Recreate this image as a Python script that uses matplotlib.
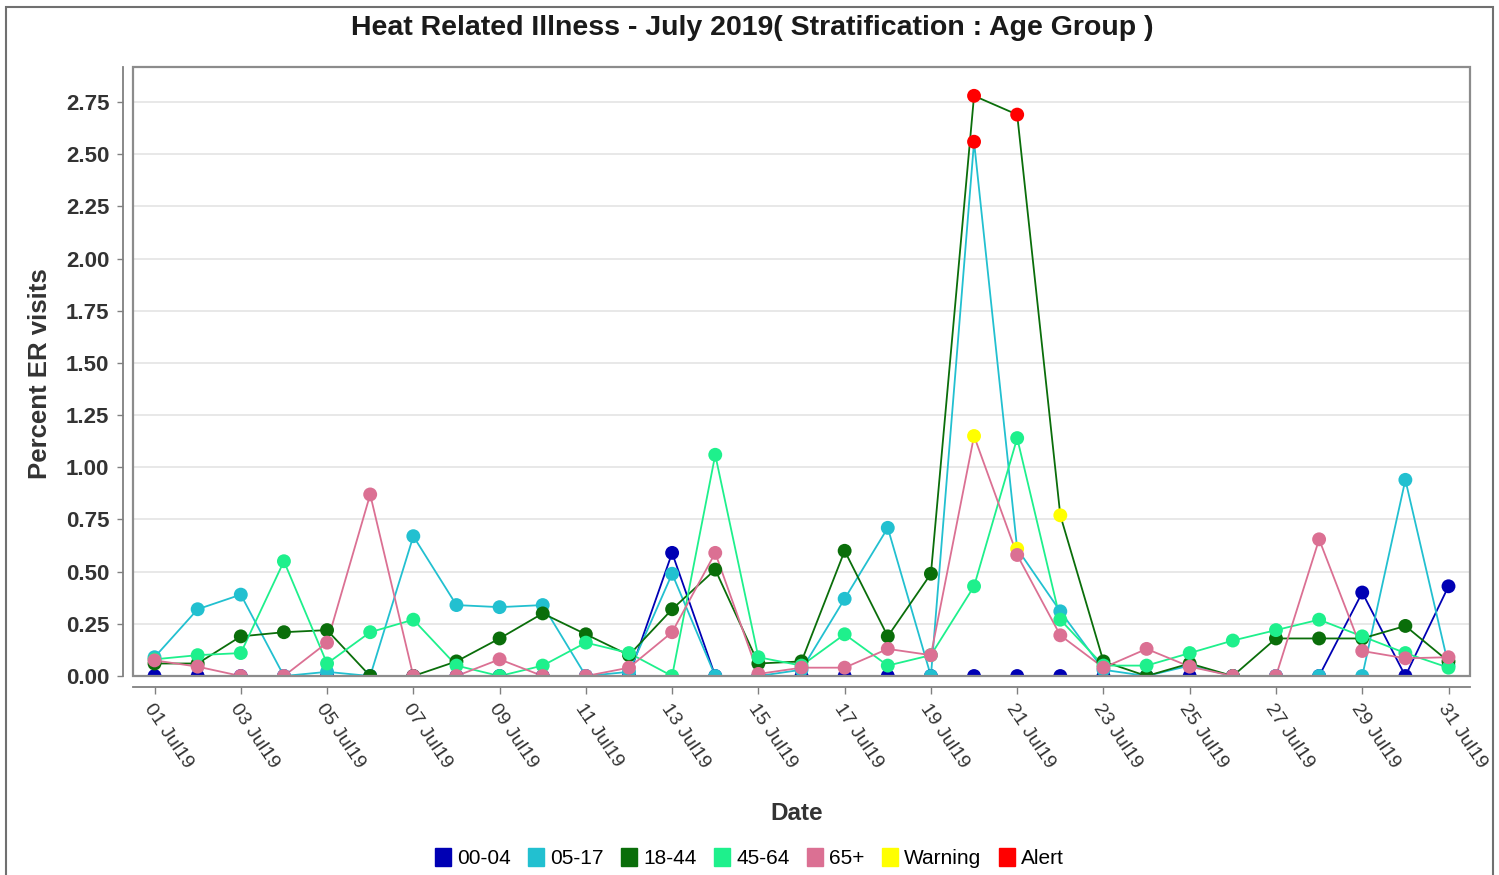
import matplotlib
matplotlib.use("Agg")
import matplotlib.pyplot as plt
from matplotlib.patches import Patch, Rectangle

plt.rcParams['font.family'] = ['Liberation Sans', 'DejaVu Sans']

days = list(range(1, 32))
tick_days = [1, 3, 5, 7, 9, 11, 13, 15, 17, 19, 21, 23, 25, 27, 29, 31]
tick_labels = ["%02d Jul19" % d for d in tick_days]
y_ticks = [0, 0.25, 0.5, 0.75, 1.0, 1.25, 1.5, 1.75, 2.0, 2.25, 2.5, 2.75]

age_00_04 = [0, 0, 0, 0, 0, 0, 0, 0, 0, 0, 0, 0, 0.59, 0, 0, 0,
             0, 0, 0, 0, 0, 0, 0, 0, 0, 0, 0, 0, 0.40, 0, 0.43]
age_05_17 = [0.09, 0.32, 0.39, 0.00, 0.02, 0.00, 0.67, 0.34, 0.33, 0.34, 0.00,
             0.02, 0.49, 0.00, 0.00, 0.03, 0.37, 0.71, 0.00, 2.56, 0.61, 0.31,
             0.03, 0.00, 0.05, 0.00, 0.00, 0.00, 0.00, 0.94, 0.05]
age_18_44 = [0.06, 0.06, 0.19, 0.21, 0.22, 0.00, 0.00, 0.07, 0.18, 0.30, 0.20,
             0.10, 0.32, 0.51, 0.06, 0.07, 0.60, 0.19, 0.49, 2.78, 2.69, 0.77,
             0.07, 0.00, 0.06, 0.00, 0.18, 0.18, 0.18, 0.24, 0.07]
age_45_64 = [0.08, 0.10, 0.11, 0.55, 0.06, 0.21, 0.27, 0.05, 0.00, 0.05, 0.16,
             0.11, 0.00, 1.06, 0.09, 0.05, 0.20, 0.05, 0.10, 0.43, 1.14, 0.27,
             0.05, 0.05, 0.11, 0.17, 0.22, 0.27, 0.19, 0.11, 0.04]
age_65_up = [0.075, 0.045, 0.00, 0.00, 0.16, 0.87, 0.00, 0.00, 0.08, 0.00, 0.00,
             0.04, 0.21, 0.59, 0.01, 0.04, 0.04, 0.13, 0.10, 1.15, 0.58, 0.195,
             0.04, 0.13, 0.045, 0.00, 0.00, 0.655, 0.12, 0.085, 0.09]

series_names = ["00-04", "05-17", "18-44", "45-64", "65+"]
series_values = [age_00_04, age_05_17, age_18_44, age_45_64, age_65_up]
series_colors = ["#0000B4", "#22C0D0", "#0A6E0A", "#1EF08C", "#DB7093"]

# (series, day) pairs flagged in the chart
warning_points = [("65+", 20), ("05-17", 21), ("18-44", 22)]
alert_points = [("05-17", 20), ("18-44", 20), ("18-44", 21)]
warning_color = "#FFFF00"
alert_color = "#FF0000"

fig = plt.figure(figsize=(14.99, 8.75), dpi=100)
ax = fig.add_axes([0.0887, 0.2274, 0.9807 - 0.0887, 0.9234 - 0.2274])

for name, vals, col in zip(series_names, series_values, series_colors):
    ax.plot(days, vals, color=col, lw=1.3, zorder=3)
    mcols = []
    for d in days:
        if (name, d) in alert_points:
            mcols.append(alert_color)
        elif (name, d) in warning_points:
            mcols.append(warning_color)
        else:
            mcols.append(col)
    ax.scatter(days, vals, s=100, c=mcols, linewidths=0, zorder=4)

# axis lines sit a little outside the plot box, like the original
# (set spine positions first - it resets the tick settings)
for side in ['top', 'right']:
    ax.spines[side].set_visible(False)
ax.spines['left'].set_position(('outward', 7))
ax.spines['bottom'].set_position(('outward', 8))
for side in ['left', 'bottom']:
    ax.spines[side].set_color('#808080')
    ax.spines[side].set_linewidth(1.3)

ax.set_xlim(0.5, 31.5)
ax.set_ylim(0, 2.918)
ax.set_yticks(y_ticks)
ax.set_yticklabels(["%.2f" % v for v in y_ticks], fontsize=16, fontweight='bold',
                   color='#333333')
ax.set_xticks(tick_days)
ax.set_xticklabels(tick_labels, fontsize=14, rotation=-56, rotation_mode='anchor',
                   ha='left', va='top', color='#333333')
ax.tick_params(axis='y', length=4, width=1, color='#808080', pad=6)
ax.tick_params(axis='x', length=5, width=1, color='#808080', pad=5)

ax.yaxis.grid(True, color='#E4E4E4', lw=1.2)
ax.set_axisbelow(True)

ax.add_patch(Rectangle((0, 0), 1, 1, transform=ax.transAxes, fill=False,
                       edgecolor='#8C8C8C', lw=1.6, clip_on=False, zorder=5))

fig.text(0.5017, 0.968, "Heat Related Illness - July 2019( Stratification : Age Group )",
         ha='center', va='center', fontsize=20.5, fontweight='bold', color='#1A1A1A')
fig.text(0.027, 1 - 374 / 875, "Percent ER visits", rotation=90, ha='center', va='center',
         fontsize=18.5, fontweight='bold', color='#333333')
fig.text(797 / 1499, 1 - 813 / 875, "Date", ha='center', va='center',
         fontsize=17.5, fontweight='bold', color='#333333')

handles = [Patch(color=c, label=n) for n, c in zip(series_names, series_colors)]
handles.append(Patch(color=warning_color, label="Warning"))
handles.append(Patch(color=alert_color, label="Alert"))
fig.legend(handles=handles, loc='center', bbox_to_anchor=(0.5, 0.019), ncol=7,
           frameon=False, fontsize=15, handlelength=0.75, handleheight=0.95,
           handletextpad=0.3, columnspacing=0.85)

# outer border of the whole image
fig.add_artist(Rectangle((0.004, -0.01), 0.992, 1.002, transform=fig.transFigure,
                         fill=False, edgecolor='#707070', lw=1.5))

fig.savefig("out.png", dpi=100)
